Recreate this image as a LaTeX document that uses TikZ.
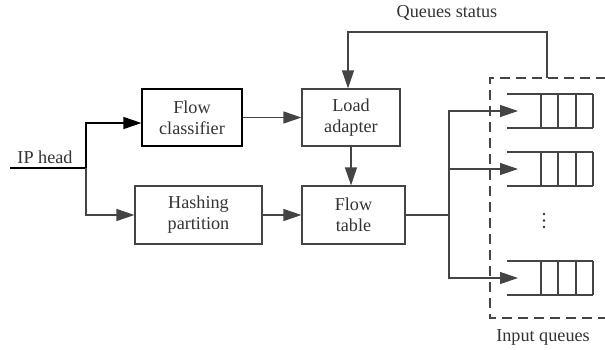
\documentclass[tikz,border=0pt]{standalone}
\usepackage{fontspec}
\setmainfont{Liberation Serif}
\usetikzlibrary{arrows.meta,calc}
\definecolor{lg}{HTML}{444444}
\definecolor{tg}{HTML}{333333}
\tikzset{
  blk/.style={draw=lg, line width=1.2pt, text=tg, align=center, inner sep=0pt,
    font=\fontsize{18.2}{21}\selectfont},
  con/.style={draw=lg, line width=1.2pt, -{Triangle[length=18pt,width=12pt]}},
  lbl/.style={text=tg, font=\fontsize{18.2}{21}\selectfont, inner sep=0pt},
  qline/.style={draw=lg, line width=1.1pt}
}
\begin{document}
\begin{tikzpicture}[x=1pt,y=-1pt]
\useasboundingbox (0,0) rectangle (605,349);
% boxes
\node[blk, draw=black, minimum width=100pt, minimum height=57pt] (fc) at (192,117.5) {Flow\\classifier};
\node[blk, minimum width=98pt, minimum height=57pt] (la) at (351,117.5) {Load\\adapter};
\node[blk, minimum width=127pt, minimum height=58pt] (hp) at (198.5,215) {Hashing\\partition};
\node[blk, minimum width=103pt, minimum height=58pt] (ft) at (353.5,215) {Flow\\table};
% labels
\node[lbl] (iplbl) at (45,157) {IP head};
\node[lbl] (qslbl) at (447,13) {Queues status};
\node[lbl] (iqlbl) at (543,337) {Input queues};
% IP head input
\coordinate (ip) at (10,168);
\coordinate (j) at (86,168);
\draw[line width=1.2pt] (ip) -- (j);
\draw[con, draw=black, -{Triangle[length=18pt,width=12pt,fill=black]}] (j) |- ([yshift=-5.5pt]fc.west);
\draw[con] (j) |- (hp.west);
\draw[con] (fc.east) -- (fc.east -| la.west);
\draw[con] (hp.east) -- (ft.west);
\draw[con] (la.south) -- (la.south |- ft.north);
% distribution to queues
\coordinate (d) at (449,215);
\coordinate (q1) at (518,111);
\coordinate (q2) at (518,169);
\coordinate (q3) at (518,278);
\draw[draw=lg, line width=1.2pt] (ft.east) -- (d);
\draw[con] (d) |- (q1);
\draw[con] (d) |- (q2);
\draw[con] (d) |- (q3);
% queues
\foreach \t/\b in {94/128, 152/186, 261/295}{
  \draw[qline] (507,\t) -- (593,\t);
  \draw[qline] (507,\b) -- (593,\b);
  \foreach \x in {541,558,576,593} \draw[qline] (\x,\t) -- (\x,\b);
}
% vertical dots
\foreach \y in {214,220.5,227} \fill[tg] (544,\y) circle (1.4pt);
% dashed box
\draw[draw=lg, line width=1.8pt, dash pattern=on 10pt off 6pt] (606,78) -- (490,78) -- (490,318) -- (606,318);
% feedback
\coordinate (fb) at (547,78);
\draw[con] (fb) -- (547,32) -| ([xshift=-3pt]la.north);
\end{tikzpicture}
\end{document}
